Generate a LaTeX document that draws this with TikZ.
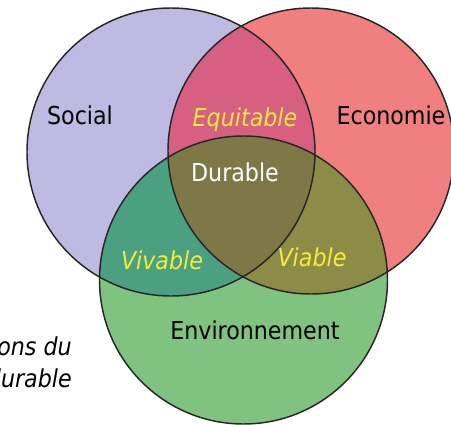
\documentclass[tikz,border=0pt]{standalone}
\usepackage{fontspec}
\setmainfont{DejaVu Sans Condensed}
\definecolor{socialc}{RGB}{190,186,226}
\definecolor{ecoc}{RGB}{240,128,128}
\definecolor{envc}{RGB}{128,195,128}
\definecolor{equitc}{RGB}{215,95,130}
\definecolor{vivc}{RGB}{75,160,130}
\definecolor{viac}{RGB}{140,140,70}
\definecolor{durc}{RGB}{125,120,70}
\definecolor{yelc}{RGB}{245,235,60}
\tikzset{
  lbl/.style={inner sep=0pt, font=\fontsize{18.5}{21}\selectfont},
  pair/.style={lbl, text=yelc, font=\fontsize{18.5}{21}\selectfont\itshape},
  rim/.style={draw=black!85, line width=1.1pt}
}
\begin{document}
\begin{tikzpicture}[x=0.75pt,y=0.75pt,yscale=-1,xscale=1]
    \useasboundingbox (0,0) rectangle (451,425);
    \clip (0,0) rectangle (451,425);

    %Circles
    \fill[socialc] (171,152) circle (144);
    \fill[ecoc] (311,151) circle (143);
    \fill[envc] (243.5,280) circle (144);

    %Pair overlaps
    \begin{scope}
      \clip (171,152) circle (144);
      \fill[equitc] (311,151) circle (143);
      \fill[vivc] (243.5,280) circle (144);
    \end{scope}
    \begin{scope}
      \clip (311,151) circle (143);
      \fill[viac] (243.5,280) circle (144);
    \end{scope}
    %Centre
    \begin{scope}
      \clip (171,152) circle (144);
      \clip (311,151) circle (143);
      \fill[durc] (243.5,280) circle (144);
    \end{scope}

    %Outlines
    \draw[rim] (171,152) circle (144);
    \draw[rim] (311,151) circle (143);
    \draw[rim] (243.5,280) circle (144);

    % Text Nodes
    \node[lbl] (social) at (80,115) {Social};
    \node[lbl] (eco) at (391,115) {Economie};
    \node[lbl] (env) at (255,330) {Environnement};
    \node[lbl, text=white] (dur) at (235,172) {Durable};
    \node[pair] (equit) at (245,120) {Equitable};
    \node[pair] (viv) at (162,260) {Vivable};
    \node[pair] (via) at (312,257) {Viable};
    % Caption (cut at the left edge)
    \node[lbl, font=\fontsize{18.5}{21}\selectfont\itshape, anchor=base east] (capa) at (72,355) {ons du};
    \node[lbl, font=\fontsize{18.5}{21}\selectfont\itshape, anchor=base east] (capb) at (72,387) {durable};
\end{tikzpicture}
\end{document}
